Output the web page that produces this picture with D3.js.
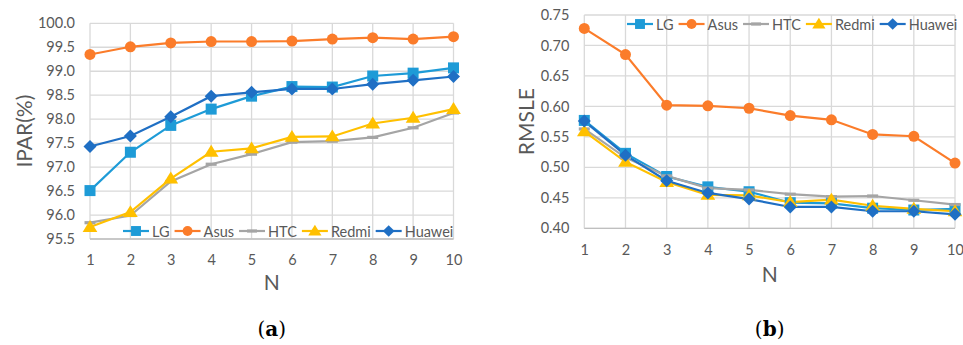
<!DOCTYPE html>
<html>
<head>
<meta charset="utf-8">
<script src="https://cdn.jsdelivr.net/npm/d3@7"></script>
<style>
  html, body { margin: 0; padding: 0; background: #fff; }
  svg { display: block; }
  text { font-family: Lato, "Open Sans", sans-serif; fill: #595959; }
</style>
</head>
<body>
<svg id="chart" width="963" height="345"></svg>
<script>
// N values on the x axis
const nValues = [1, 2, 3, 4, 5, 6, 7, 8, 9, 10];
const seriesNames = ["LG", "Asus", "HTC", "Redmi", "Huawei"];

// (a) IPAR (%)
const ipar = {
  LG:     [96.51, 97.31, 97.87, 98.21, 98.48, 98.68, 98.67, 98.90, 98.96, 99.07],
  Asus:   [99.35, 99.51, 99.59, 99.62, 99.62, 99.63, 99.67, 99.70, 99.67, 99.72],
  HTC:    [95.84, 95.99, 96.70, 97.06, 97.27, 97.52, 97.54, 97.62, 97.82, 98.13],
  Redmi:  [95.75, 96.06, 96.76, 97.32, 97.39, 97.63, 97.64, 97.91, 98.03, 98.21],
  Huawei: [97.43, 97.65, 98.05, 98.48, 98.56, 98.63, 98.63, 98.73, 98.81, 98.89]
};
const iparTicks = [95.5, 96.0, 96.5, 97.0, 97.5, 98.0, 98.5, 99.0, 99.5, 100.0];

// (b) RMSLE
const rmsle = {
  LG:     [0.577, 0.523, 0.485, 0.468, 0.460, 0.442, 0.441, 0.433, 0.430, 0.432],
  Asus:   [0.728, 0.685, 0.602, 0.601, 0.597, 0.585, 0.578, 0.554, 0.551, 0.507],
  HTC:    [0.563, 0.516, 0.486, 0.466, 0.463, 0.456, 0.452, 0.453, 0.446, 0.439],
  Redmi:  [0.559, 0.509, 0.476, 0.455, 0.454, 0.443, 0.447, 0.437, 0.432, 0.428],
  Huawei: [0.576, 0.520, 0.478, 0.458, 0.448, 0.435, 0.435, 0.428, 0.428, 0.423]
};
const rmsleTicks = [0.40, 0.45, 0.50, 0.55, 0.60, 0.65, 0.70, 0.75];

const colors = { LG: "#1e9bd7", Asus: "#fb7c2a", HTC: "#a5a5a5", Redmi: "#ffc000", Huawei: "#1f6fc4" };
const markers = { LG: "square", Asus: "circle", HTC: "dash", Redmi: "triangle", Huawei: "diamond" };

const svg = d3.select("#chart");

function drawMarker(g, type, x, y, color, scale = 1) {
  if (type === "square") {
    const s = 11 * scale;
    g.append("rect").attr("x", x - s / 2).attr("y", y - s / 2).attr("width", s).attr("height", s).attr("fill", color);
  } else if (type === "circle") {
    g.append("circle").attr("cx", x).attr("cy", y).attr("r", 5.5 * scale).attr("fill", color);
  } else if (type === "triangle") {
    const s = 7 * scale;
    g.append("path").attr("d", `M${x},${y - s}L${x + s * 1.05},${y + s * 0.7}L${x - s * 1.05},${y + s * 0.7}Z`).attr("fill", color);
  } else if (type === "diamond") {
    const s = 6.5 * scale;
    g.append("path").attr("d", `M${x},${y - s}L${x + s},${y}L${x},${y + s}L${x - s},${y}Z`).attr("fill", color);
  } else if (type === "dash") {
    const s = 5.5 * scale;
    g.append("rect").attr("x", x - s).attr("y", y - 1.6).attr("width", 2 * s).attr("height", 3.2).attr("fill", color);
  }
}

function drawPanel(opts) {
  const { left, right, top, bottom, data, domain, ticks, fmt, yTitle, yTitleX,
          xLabelY, nY, caption, legendX, legendY } = opts;
  const x = d3.scaleLinear().domain([1, 10]).range([left, right]);
  const y = d3.scaleLinear().domain(domain).range([bottom, top]);
  const g = svg.append("g");

  // gridlines
  g.selectAll(".hg").data(ticks).join("line")
    .attr("x1", left).attr("x2", right)
    .attr("y1", d => y(d)).attr("y2", d => y(d))
    .attr("stroke", "#d9d9d9").attr("stroke-width", 1.3);
  g.selectAll(".vg").data(nValues).join("line")
    .attr("x1", d => x(d)).attr("x2", d => x(d))
    .attr("y1", top).attr("y2", bottom)
    .attr("stroke", "#d9d9d9").attr("stroke-width", 1.3);
  g.append("line").attr("x1", left).attr("x2", right).attr("y1", bottom).attr("y2", bottom)
    .attr("stroke", "#bfbfbf").attr("stroke-width", 1.3);

  // axes via d3 axis generators, styled
  const yAxis = g.append("g").attr("transform", `translate(${left - 9},0)`)
    .call(d3.axisLeft(y).tickValues(ticks).tickFormat(fmt).tickSize(0).tickPadding(6));
  yAxis.select(".domain").remove();
  yAxis.selectAll("text").style("font-size", "14.5px").attr("fill", "#595959")
    .style("font-family", "Lato, sans-serif");

  const xAxis = g.append("g").attr("transform", `translate(0,${xLabelY})`)
    .call(d3.axisBottom(x).tickValues(nValues).tickFormat(d3.format("d")).tickSize(0).tickPadding(0));
  xAxis.select(".domain").remove();
  xAxis.selectAll("text").style("font-size", "14.5px").attr("fill", "#595959")
    .attr("dy", "0.32em").style("font-family", "Lato, sans-serif");

  // axis titles
  g.append("text").attr("transform", `translate(${yTitleX},${(top + bottom) / 2}) rotate(-90)`)
    .attr("text-anchor", "middle").attr("dominant-baseline", "central")
    .style("font-size", "21px").text(yTitle);
  g.append("text").attr("x", (left + right) / 2).attr("y", nY)
    .attr("text-anchor", "middle").attr("dominant-baseline", "central")
    .style("font-size", "21px").text("N");

  // caption
  const cap = g.append("text").attr("x", (left + right) / 2).attr("y", 329)
    .attr("text-anchor", "middle").attr("dominant-baseline", "central")
    .style("font-family", "'DejaVu Serif', 'Liberation Serif', serif").style("font-size", "20px");
  cap.append("tspan").style("font-weight", "normal").style("fill", "#000").text("(");
  cap.append("tspan").style("font-weight", "bold").style("fill", "#000").text(caption);
  cap.append("tspan").style("font-weight", "normal").style("fill", "#000").text(")");

  // series
  const line = d3.line().x((d, i) => x(nValues[i])).y(d => y(d));
  seriesNames.forEach(name => {
    g.append("path").datum(data[name]).attr("d", line)
      .attr("fill", "none").attr("stroke", colors[name]).attr("stroke-width", 2.2);
  });
  seriesNames.forEach(name => {
    const mg = g.append("g");
    data[name].forEach((v, i) => drawMarker(mg, markers[name], x(nValues[i]), y(v), colors[name]));
  });

  // legend
  const lg = g.append("g");
  let cx = legendX;
  seriesNames.forEach(name => {
    lg.append("line").attr("x1", cx).attr("x2", cx + 26).attr("y1", legendY).attr("y2", legendY)
      .attr("stroke", colors[name]).attr("stroke-width", 2.2);
    drawMarker(lg, markers[name], cx + 13, legendY, colors[name], 0.9);
    const t = lg.append("text").attr("x", cx + 29).attr("y", legendY)
      .attr("dominant-baseline", "central").style("font-size", "14.5px").text(name);
    cx += 29 + t.node().getComputedTextLength() + 5;
  });
}

drawPanel({
  left: 90, right: 453.5, top: 23.3, bottom: 239,
  data: ipar, domain: [95.5, 100.0], ticks: iparTicks, fmt: d3.format(".1f"),
  yTitle: "IPAR(%)", yTitleX: 23, xLabelY: 260, nY: 281, caption: "a",
  legendX: 123, legendY: 231
});

drawPanel({
  left: 584.3, right: 955, top: 15, bottom: 228.3,
  data: rmsle, domain: [0.40, 0.75], ticks: rmsleTicks, fmt: d3.format(".2f"),
  yTitle: "RMSLE", yTitleX: 525, xLabelY: 250, nY: 273, caption: "b",
  legendX: 627, legendY: 24
});
</script>
</body>
</html>
